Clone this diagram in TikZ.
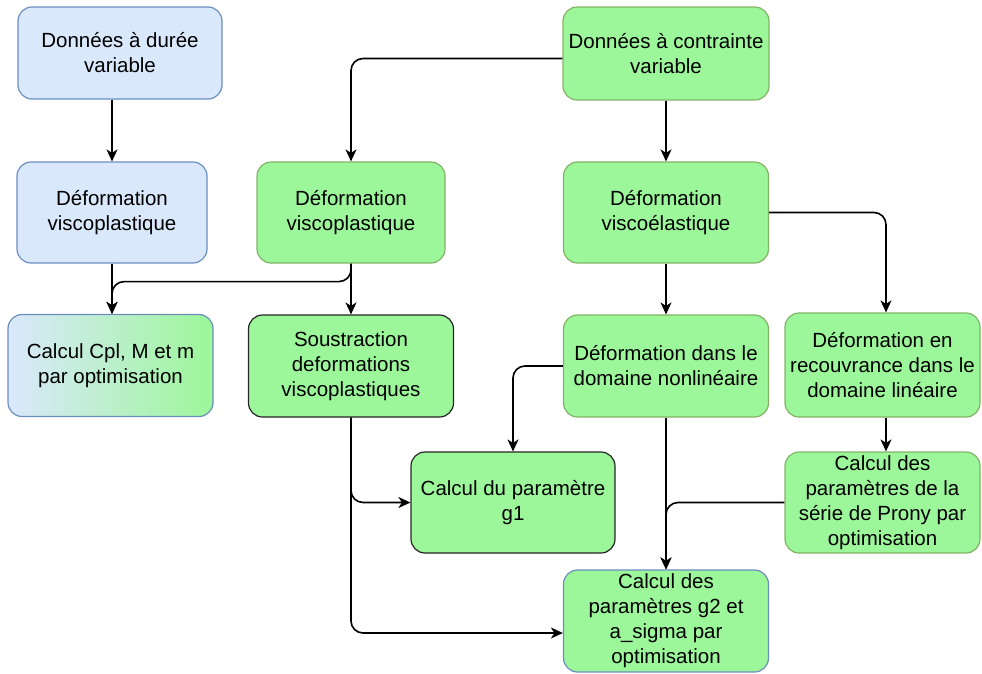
\documentclass[tikz,border=0pt]{standalone}
\usepackage{fontspec}
\setmainfont{Liberation Sans}
\usetikzlibrary{arrows.meta}

\definecolor{bleufond}{HTML}{DAE8FC}
\definecolor{bleutrait}{HTML}{6C8EBF}
\definecolor{vertfond}{HTML}{9CF79A}
\definecolor{verttrait}{HTML}{82B366}

\begin{document}
\begin{tikzpicture}[x=1pt,y=-1pt,
    boite/.style={rectangle,rounded corners=14pt,draw=verttrait,fill=vertfond,line width=1.2pt,
        minimum width=205pt,minimum height=102pt,align=center,text=black,
        font=\fontsize{20.5}{25}\selectfont,inner sep=2pt},
    bleue/.style={boite,draw=bleutrait,fill=bleufond},
    noire/.style={boite,draw=black!85},
    conn/.style={line width=1.6pt,rounded corners=12pt,-{Stealth[length=12pt,width=11pt,inset=3.5pt]}}]
\useasboundingbox (0,0) rectangle (982,673);

% colonne de gauche
\node[bleue,minimum width=204pt,minimum height=92pt] (donneesduree) at (120,53) {Données à durée\\variable};
\node[bleue,minimum width=190pt,minimum height=101pt] (vpgauche) at (112,212.5) {Déformation\\viscoplastique};
\node[boite,draw=bleutrait,left color=bleufond,right color=vertfond] (calculcpl) at (110.5,365.5) {Calcul Cpl, M et m\\par optimisation};

% colonne du milieu
\node[boite,minimum width=188pt,minimum height=101pt] (vpdroite) at (351,212.5) {Déformation\\viscoplastique};
\node[noire] (soustraction) at (351,366) {Soustraction\\deformations\\viscoplastiques};
\node[noire,minimum width=204pt,minimum height=101pt] (calculgun) at (513,502.5) {Calcul du paramètre\\g1};

% colonne de droite
\node[boite,minimum width=206pt,minimum height=93pt] (donneescontr) at (666,53.5) {Données à contrainte\\variable};
\node[boite,minimum height=101pt] (viscoel) at (666,212.5) {Déformation\\viscoélastique};
\node[boite] (nonlin) at (666,366) {Déformation dans le\\domaine nonlinéaire};
\node[boite,minimum width=195pt,minimum height=104pt] (recouvr) at (882.5,365) {Déformation en\\recouvrance dans le\\domaine linéaire};
\node[boite,minimum width=195pt,minimum height=101pt] (prony) at (882.5,502.5) {Calcul des\\paramètres de la\\série de Prony par\\optimisation};
\node[boite,draw=bleutrait] (calculgdeux) at (666,621) {Calcul des\\paramètres g2 et\\a\_sigma par\\optimisation};

% liaisons
\draw[conn] (donneesduree.south -| vpgauche) -- (vpgauche);
\draw[conn] (vpgauche) -- (vpgauche |- calculcpl.north);
\draw[conn] (vpdroite.south) -- ++(0,18) -| (vpgauche |- calculcpl.north);
\draw[conn] (vpdroite) -- (soustraction);
\draw[conn] ([yshift=-5pt]donneescontr.west) -| (vpdroite.north);
\draw[conn] (donneescontr) -- (viscoel);
\draw[conn] (viscoel) -- (nonlin);
\draw[conn] (viscoel.east) -| ([xshift=3.5pt]recouvr.north);
\draw[conn] ([xshift=3.5pt]recouvr.south) -- ([xshift=3.5pt]prony.north);
\draw[conn] (nonlin.west) -| (calculgun.north);
\draw[conn] (nonlin) -- (calculgdeux);
\draw[conn] (prony.west) -| (calculgdeux.north);
\draw[conn] (soustraction.south) |- (calculgun.west);
\draw[conn] (soustraction.south) |- ([yshift=-12pt]calculgdeux.west);
\end{tikzpicture}
\end{document}
